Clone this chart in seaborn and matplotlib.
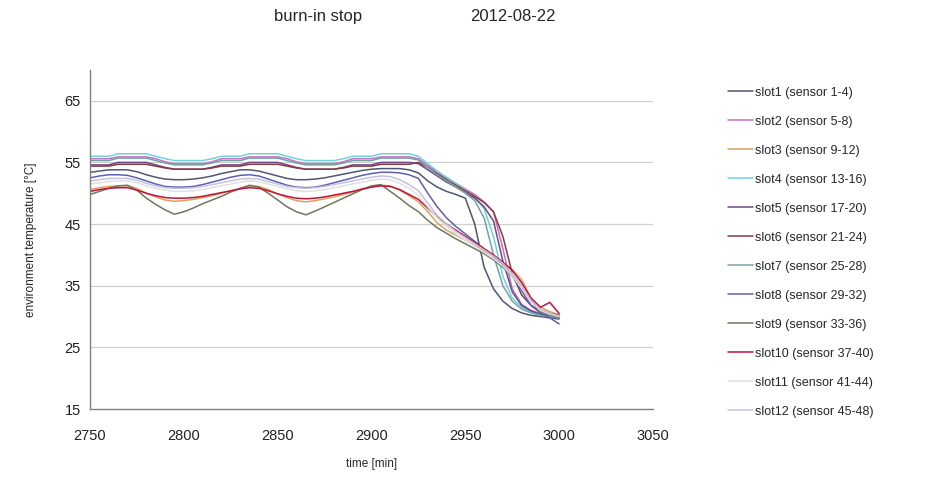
import numpy as np
import pandas as pd
import matplotlib
matplotlib.use("Agg")
import matplotlib.pyplot as plt
import seaborn as sns

# ---------- data ----------

time_min = list(range(2750, 3001, 5))

slot_labels = [
    "slot1 (sensor 1-4)", "slot2 (sensor 5-8)", "slot3 (sensor 9-12)",
    "slot4 (sensor 13-16)", "slot5 (sensor 17-20)", "slot6 (sensor 21-24)",
    "slot7 (sensor 25-28)", "slot8 (sensor 29-32)", "slot9 (sensor 33-36)",
    "slot10 (sensor 37-40)", "slot11 (sensor 41-44)", "slot12 (sensor 45-48)",
]

slot_colors = [
    "#4f5670", "#c66fc6", "#d9a35a", "#6fd3dc", "#6b4b85", "#8b3a42",
    "#73a3a3", "#5e5eb4", "#6f7760", "#c0123e", "#e0e0e0", "#c3c3de",
]

slot1 = [53.4, 53.6, 53.8, 53.8, 53.8, 53.5, 53.0, 52.6, 52.3, 52.2, 52.2, 52.3,
         52.5, 52.8, 53.2, 53.5, 53.8, 53.8, 53.6, 53.2, 52.8, 52.4, 52.2, 52.2,
         52.3, 52.5, 52.8, 53.1, 53.4, 53.7, 53.9, 54.0, 54.0, 54.0, 53.8,
         53.3, 52.0, 51.0, 50.3, 49.8, 49.2, 45.0, 38.0, 34.5, 32.5, 31.3, 30.6,
         30.2, 30.0, 29.8, 29.6]
slot2 = [55.6, 55.6, 55.6, 55.9, 55.9, 55.9, 55.9, 55.6, 55.1, 54.8, 54.8, 54.8,
         54.8, 55.1, 55.6, 55.6, 55.6, 55.9, 55.9, 55.9, 55.9, 55.6, 55.1, 54.8,
         54.8, 54.8, 54.8, 55.1, 55.6, 55.6, 55.6, 55.9, 55.9, 55.9, 55.9,
         55.6, 54.5, 53.5, 52.5, 51.6, 50.7, 49.8, 48.6, 47.0, 41.0, 34.5, 32.0,
         31.0, 30.5, 30.2, 30.0]
slot3 = [50.6, 50.9, 51.1, 51.2, 51.2, 50.8, 50.0, 49.4, 48.9, 48.7, 48.8, 49.0,
         49.3, 49.6, 50.0, 50.4, 50.8, 51.1, 51.1, 50.6, 49.9, 49.3, 48.8, 48.6,
         48.8, 49.1, 49.4, 49.8, 50.2, 50.6, 51.0, 51.3, 51.2, 50.5, 49.6,
         48.6, 47.0, 45.2, 44.0, 43.2, 42.4, 41.5, 40.6, 39.8, 38.8, 37.6, 36.0,
         33.0, 31.5, 30.8, 30.3]
slot4 = [56.0, 56.0, 56.0, 56.4, 56.4, 56.4, 56.4, 56.0, 55.6, 55.3, 55.3, 55.3,
         55.3, 55.6, 56.0, 56.0, 56.0, 56.4, 56.4, 56.4, 56.4, 56.0, 55.6, 55.3,
         55.3, 55.3, 55.3, 55.6, 56.0, 56.0, 56.0, 56.4, 56.4, 56.4, 56.4,
         56.0, 54.8, 53.6, 52.6, 51.6, 50.6, 49.4, 47.5, 43.0, 36.5, 33.0, 31.5,
         30.8, 30.4, 30.1, 29.9]
slot5 = [54.6, 54.6, 54.6, 55.0, 55.0, 55.0, 55.0, 54.6, 54.2, 53.9, 53.9, 53.9,
         53.9, 54.2, 54.6, 54.6, 54.6, 55.0, 55.0, 55.0, 55.0, 54.6, 54.2, 53.9,
         53.9, 53.9, 53.9, 54.2, 54.6, 54.6, 54.6, 55.0, 55.0, 55.0, 55.0,
         54.8, 53.8, 52.8, 51.8, 51.0, 50.1, 49.2, 47.8, 45.5, 39.0, 34.0, 31.8,
         30.9, 30.4, 30.1, 29.8]
slot6 = [54.4, 54.4, 54.4, 54.7, 54.7, 54.7, 54.7, 54.4, 54.1, 53.9, 53.9, 53.9,
         53.9, 54.1, 54.4, 54.4, 54.4, 54.7, 54.7, 54.7, 54.7, 54.4, 54.1, 53.9,
         53.9, 53.9, 53.9, 54.1, 54.4, 54.4, 54.4, 54.7, 54.7, 54.7, 54.7,
         55.0, 54.2, 53.2, 52.2, 51.3, 50.4, 49.5, 48.5, 47.0, 43.0, 37.0, 33.5,
         31.8, 31.0, 30.5, 30.2]
slot7 = [55.3, 55.3, 55.3, 55.7, 55.7, 55.7, 55.7, 55.3, 54.9, 54.6, 54.6, 54.6,
         54.6, 54.9, 55.3, 55.3, 55.3, 55.7, 55.7, 55.7, 55.7, 55.3, 54.9, 54.6,
         54.6, 54.6, 54.6, 54.9, 55.3, 55.3, 55.3, 55.7, 55.7, 55.7, 55.7,
         55.4, 54.2, 53.0, 52.0, 51.0, 50.0, 48.8, 46.0, 40.0, 35.0, 32.5, 31.2,
         30.6, 30.2, 30.0, 29.8]
slot8 = [52.5, 52.8, 53.0, 53.0, 52.9, 52.5, 52.0, 51.5, 51.1, 51.0, 51.0, 51.1,
         51.4, 51.8, 52.2, 52.6, 52.9, 53.0, 52.8, 52.3, 51.8, 51.3, 51.0, 50.9,
         51.0, 51.3, 51.7, 52.1, 52.5, 52.9, 53.2, 53.4, 53.4, 53.3, 53.0,
         52.4, 50.0, 47.8, 46.0, 44.6, 43.4, 42.2, 41.0, 39.8, 38.4, 36.6, 34.2,
         31.8, 30.6, 29.8, 28.8]
slot9 = [49.8, 50.3, 50.8, 51.2, 51.3, 50.5, 49.2, 48.2, 47.3, 46.6, 47.0, 47.6,
         48.3, 48.9, 49.5, 50.2, 50.8, 51.3, 51.0, 50.0, 48.9, 47.8, 47.0, 46.5,
         47.1, 47.8, 48.5, 49.2, 49.9, 50.6, 51.2, 51.4, 50.3, 49.2, 48.0,
         47.0, 45.6, 44.4, 43.5, 42.6, 41.8, 41.0, 40.2, 39.2, 38.0, 36.6, 34.8,
         32.5, 30.8, 30.2, 29.9]
slot10 = [50.3, 50.6, 50.8, 50.9, 50.9, 50.5, 50.0, 49.6, 49.3, 49.2, 49.2, 49.3,
          49.5, 49.8, 50.1, 50.4, 50.7, 50.9, 50.8, 50.4, 49.9, 49.5, 49.2, 49.1,
          49.2, 49.4, 49.7, 50.0, 50.3, 50.7, 51.0, 51.2, 51.1, 50.6, 49.8,
          49.0, 47.6, 46.2, 45.0, 44.0, 43.0, 42.0, 41.0, 40.0, 38.8, 37.5, 35.5,
          33.0, 31.5, 32.3, 30.5]
slot11 = [51.5, 51.7, 51.9, 52.0, 52.0, 51.7, 51.2, 50.8, 50.5, 50.3, 50.3, 50.4,
          50.6, 50.9, 51.2, 51.5, 51.8, 52.0, 51.9, 51.5, 51.1, 50.7, 50.4, 50.3,
          50.4, 50.6, 50.9, 51.2, 51.5, 51.8, 52.1, 52.3, 52.2, 51.6, 50.8,
          49.6, 47.8, 46.0, 44.6, 43.4, 42.4, 41.4, 40.4, 39.4, 38.2, 36.6, 34.6,
          32.4, 31.0, 30.4, 30.0]
slot12 = [52.0, 52.2, 52.4, 52.4, 52.4, 52.1, 51.6, 51.2, 50.9, 50.8, 50.8, 50.9,
          51.1, 51.4, 51.7, 52.0, 52.3, 52.4, 52.3, 51.9, 51.5, 51.1, 50.9, 50.8,
          50.9, 51.1, 51.4, 51.7, 52.0, 52.3, 52.6, 52.8, 52.7, 52.2, 51.4,
          50.4, 48.4, 46.4, 45.0, 43.8, 42.8, 41.8, 40.8, 39.8, 38.6, 37.0, 35.0,
          32.6, 31.2, 30.5, 30.1]

series = [slot1, slot2, slot3, slot4, slot5, slot6,
          slot7, slot8, slot9, slot10, slot11, slot12]

x_ticks = [2750, 2800, 2850, 2900, 2950, 3000, 3050]
y_ticks = [15, 25, 35, 45, 55, 65]

# ---------- plot ----------

frames = []
for label, vals in zip(slot_labels, series):
    frames.append(pd.DataFrame({"time": time_min, "temp": vals, "slot": label}))
df = pd.concat(frames, ignore_index=True)

sns.set_style("white")
plt.rcParams["font.family"] = ["Liberation Sans", "DejaVu Sans"]

fig = plt.figure(figsize=(9.26, 4.79), dpi=100)
ax = fig.add_axes([0.0972, 0.146, 0.608, 0.708])

sns.lineplot(data=df, x="time", y="temp", hue="slot", hue_order=slot_labels,
             palette=slot_colors, estimator=None, sort=False, lw=1.1, ax=ax)

ax.set_xlim(2750, 3050)
ax.set_ylim(15, 70)
ax.set_xticks(x_ticks)
ax.set_yticks(y_ticks)
ax.tick_params(axis="both", labelsize=10.5, length=3, color="#808080", direction="out",
               labelcolor="#222222")
ax.tick_params(axis="x", pad=11)
for y in y_ticks[1:]:
    ax.axhline(y, color="#d0d0d0", lw=0.9, zorder=0)
for side in ["top", "right"]:
    ax.spines[side].set_visible(False)
for side in ["left", "bottom"]:
    ax.spines[side].set_color("#808080")
    ax.spines[side].set_linewidth(1.0)

ax.set_xlabel("time [min]", fontsize=8.5, labelpad=11)
ax.set_ylabel("environment temperature [°C]", fontsize=8.5, labelpad=20)

ax.legend(loc="upper left", bbox_to_anchor=(1.124, 0.965), frameon=False,
          fontsize=9, labelspacing=1.36, handlelength=2.0, handletextpad=0.2,
          borderaxespad=0)

fig.text(0.344, 0.966, "burn-in stop", ha="center", va="center", fontsize=12)
fig.text(0.554, 0.966, "2012-08-22", ha="center", va="center", fontsize=12)

fig.savefig("out.png", dpi=100)
